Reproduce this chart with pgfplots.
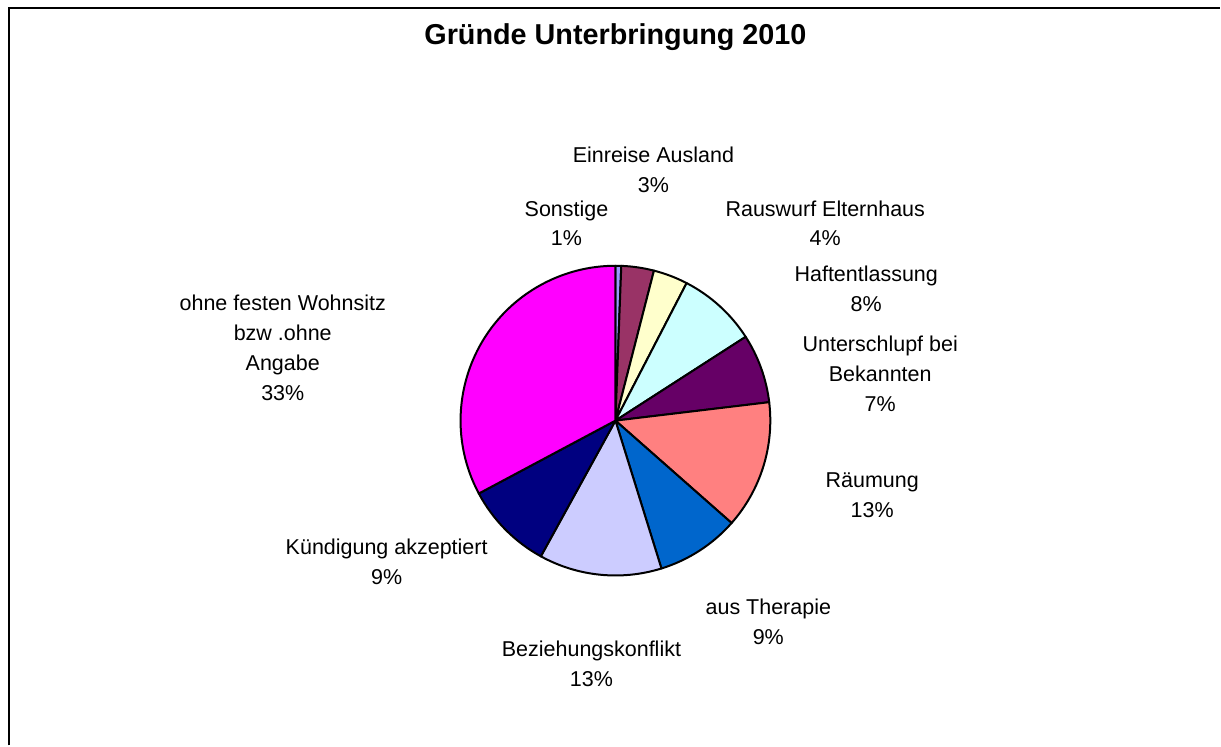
\documentclass[border=0pt]{standalone}
\usepackage{pgfplots}
\usepackage{pgfplotstable}
\pgfplotsset{compat=1.18}
\usepackage{fontspec}
\setmainfont{Liberation Sans}

\definecolor{cSonst}{HTML}{9999FF}
\definecolor{cEinr}{HTML}{993366}
\definecolor{cRaus}{HTML}{FFFFCC}
\definecolor{cHaft}{HTML}{CCFFFF}
\definecolor{cUnter}{HTML}{660066}
\definecolor{cRaeum}{HTML}{FF8080}
\definecolor{cThera}{HTML}{0066CC}
\definecolor{cBez}{HTML}{CCCCFF}
\definecolor{cKuend}{HTML}{000080}
\definecolor{cOhne}{HTML}{FF00FF}

\tikzset{lbl/.style={font=\fontsize{10.75}{15}\selectfont, align=center}}

% shares in percent, clockwise from 12 o'clock
\pgfplotstableread[col sep=comma]{
name,pct,col
Sonstige,0.6,cSonst
Einreise Ausland,3.4,cEinr
Rauswurf Elternhaus,3.6,cRaus
Haftentlassung,8.3,cHaft
Unterschlupf bei Bekannten,7.2,cUnter
Räumung,13.4,cRaeum
aus Therapie,8.7,cThera
Beziehungskonflikt,12.8,cBez
Kündigung akzeptiert,9.2,cKuend
ohne festen Wohnsitz,32.8,cOhne
}\piedata

\begin{document}
\begin{tikzpicture}
\begin{axis}[
    x=0.5pt, y=0.5pt, y dir=reverse,
    xmin=0, xmax=1221, ymin=0, ymax=746,
    hide axis, clip=false,
]
\path (axis cs:0,0) rectangle (axis cs:1221,746);
% frame
\draw[line width=1.1pt] (axis cs:9,746) -- (axis cs:9,8) -- (axis cs:1221,8);

% slices
\pgfplotstablegetrowsof{\piedata}
\pgfmathtruncatemacro\nrows{\pgfplotsretval-1}
\def\cum{0}
\pgfplotsforeachungrouped \i in {0,...,\nrows}{
    \pgfplotstablegetelem{\i}{pct}\of\piedata \let\pv\pgfplotsretval
    \pgfplotstablegetelem{\i}{col}\of\piedata \let\slicecol\pgfplotsretval
    \pgfmathsetmacro\sa{90-3.6*\cum}
    \pgfmathsetmacro\sb{90-3.6*(\cum+\pv)}
    \edef\temp{\noexpand\filldraw[fill=\slicecol, draw=black, line width=1pt, line join=round]
        (axis cs:616,421) -- ++(\sa:77.5pt) arc[start angle=\sa, end angle=\sb, radius=77.5pt] -- cycle;}
    \temp
    \pgfmathsetmacro\cum{\cum+\pv}
}

% title
\node[font=\fontsize{14.4}{17}\selectfont\bfseries] at (axis cs:616,37) {Gründe Unterbringung 2010};

% labels
\node[lbl] at (axis cs:654,170) {Einreise Ausland\\3\%};
\node[lbl] at (axis cs:567,223.5) {Sonstige\\1\%};
\node[lbl] at (axis cs:826,223.5) {Rauswurf Elternhaus\\4\%};
\node[lbl] at (axis cs:867,289) {Haftentlassung\\8\%};
\node[lbl] at (axis cs:881,374) {Unterschlupf bei\\Bekannten\\7\%};
\node[lbl] at (axis cs:873,495.5) {Räumung\\13\%};
\node[lbl] at (axis cs:769,622) {aus Therapie\\9\%};
\node[lbl] at (axis cs:592,664) {Beziehungskonflikt\\13\%};
\node[lbl] at (axis cs:387,562.5) {Kündigung akzeptiert\\9\%};
\node[lbl] at (axis cs:283,348.5) {ohne festen Wohnsitz\\bzw .ohne\\Angabe\\33\%};
\end{axis}
\end{tikzpicture}
\end{document}
